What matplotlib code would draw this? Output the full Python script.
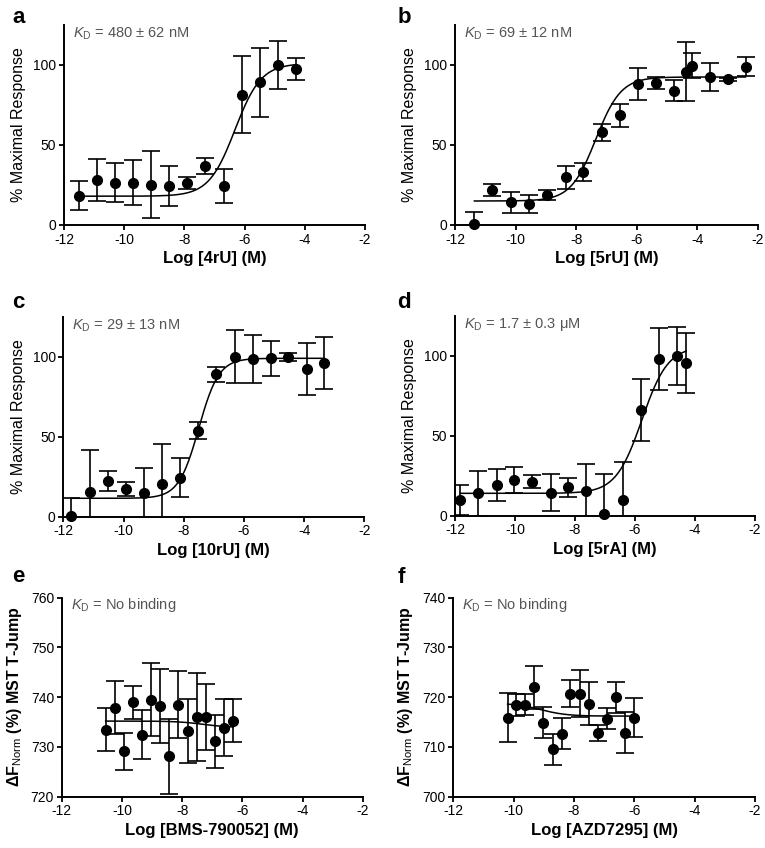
import numpy as np
import matplotlib
matplotlib.use('Agg')
import matplotlib.pyplot as plt

plt.rcParams['font.family'] = ['Liberation Sans', 'DejaVu Sans']
plt.rcParams['mathtext.fontset'] = 'custom'
plt.rcParams['mathtext.rm'] = 'Liberation Sans'
plt.rcParams['mathtext.it'] = 'Liberation Sans:italic'
plt.rcParams['mathtext.bf'] = 'Liberation Sans:bold'
plt.rcParams['axes.unicode_minus'] = False

# ---- data (log M, response, +/- error) ----
a_x = [-11.5, -10.9, -10.3, -9.7, -9.1, -8.5, -7.9, -7.3, -6.7, -6.1, -5.5, -4.9, -4.3]
a_y = [18.3, 28, 26.5, 26.5, 25.3, 24.3, 26.3, 36.7, 24.5, 81.5, 89.2, 100, 97.5]
a_err = [9, 13, 12, 14, 21, 12.5, 3.7, 5, 10.5, 24, 21.6, 15, 7]
a_fit = [18, 101, -6.32, 1.0]  # left plateau, right plateau, logKD, hill

b_x = [-11.36, -10.77, -10.16, -9.56, -8.96, -8.35, -7.76, -7.15, -6.55, -5.95,
       -5.37, -4.76, -4.37, -4.18, -3.6, -3.0, -2.41]
b_y = [0.4, 21.8, 14.1, 13, 18.7, 29.7, 33.2, 58, 68.5, 88.2, 88.6, 84, 95.9, 99.6, 92.3, 91, 99]
b_err = [8, 3.7, 6.7, 5.5, 3, 7, 5.5, 5.3, 7.3, 10, 3.8, 6.5, 18.6, 8, 8.8, 1, 5.7]
b_fit = [15, 92.5, -7.35, 1.05]

c_x = [-11.75, -11.11, -10.53, -9.92, -9.32, -8.72, -8.12, -7.53, -6.92, -6.31,
       -5.7, -5.1, -4.52, -3.92, -3.33]
c_y = [0.4, 15.6, 22.3, 17.3, 14.6, 20.2, 24.4, 53.8, 89, 100, 98.3, 99, 99.6, 92.3, 96]
c_err = [11, 26, 6.5, 4.4, 15.6, 25, 12, 5.2, 4.7, 16.7, 15, 11, 2.5, 16, 16.4]
c_fit = [11.5, 99, -7.5, 1.3]

d_x = [-11.83, -11.22, -10.61, -10.02, -9.42, -8.81, -8.22, -7.62, -7.02, -6.41,
       -5.81, -5.2, -4.61, -4.3]
d_y = [9.8, 14, 19.2, 22.3, 21.3, 14.4, 17.7, 15.4, 0.8, 9.8, 66.2, 98.1, 100, 95.8]
d_err = [9.6, 14, 10, 8, 4.2, 11.7, 6, 17, 25, 24, 19.5, 19.7, 18.3, 18.7]
d_fit = [14, 106, -5.77, 1.0]

e_x = [-10.54, -10.23, -9.94, -9.64, -9.33, -9.03, -8.74, -8.42, -8.13, -7.82,
       -7.52, -7.22, -6.92, -6.61, -6.3]
e_y = [733.5, 737.9, 729.1, 739, 732.5, 739.5, 738.2, 728.1, 738.5, 733.2,
       736, 736, 731.1, 733.9, 735.3]
e_err = [4.35, 5.3, 3.8, 3.3, 4.9, 7.3, 7.5, 7.6, 6.8, 6.4, 8.8, 6.7, 5.3, 5.8, 4.4]
e_fit = [735.2, 733.9, -7.3, 1.0]

f_x = [-10.2, -9.91, -9.61, -9.31, -9.02, -8.71, -8.41, -8.12, -7.81, -7.51,
       -7.22, -6.92, -6.62, -6.32, -6.01]
f_y = [715.9, 718.5, 718.5, 722, 714.9, 709.5, 712.7, 720.7, 720.7, 718.7,
       712.8, 715.7, 720, 712.9, 715.9]
f_err = [4.9, 2.2, 2.1, 4.3, 3.1, 3.05, 3.1, 2.7, 4.7, 4.3, 1.7, 2.1, 3.1, 4.2, 4]
f_fit = [718.8, 716.2, -9.1, 1.0]

letters = ['a', 'b', 'c', 'd', 'e', 'f']
xlabels = ['Log [4rU] (M)', 'Log [5rU] (M)', 'Log [10rU] (M)', 'Log [5rA] (M)',
           'Log [BMS-790052] (M)', 'Log [AZD7295] (M)']
kd_text = ['480 ± 62 nM', '69 ± 12 nM', '29 ± 13 nM', '1.7 ± 0.3 μM', 'No binding', 'No binding']

panels = [(a_x, a_y, a_err, a_fit), (b_x, b_y, b_err, b_fit), (c_x, c_y, c_err, c_fit),
          (d_x, d_y, d_err, d_fit), (e_x, e_y, e_err, e_fit), (f_x, f_y, f_err, f_fit)]

W, H = 765, 848
# axes boxes in pixels: left, right, bottom-spine y, top y
boxes = [(64, 365, 225, 25), (455, 758, 225, 25),
         (63.3, 364.3, 516.7, 316.7), (455, 755, 515.7, 316),
         (61.7, 362.7, 796.7, 597.7), (453.3, 755, 796.7, 597.7)]
letter_pos = [(12, 23), (398, 23), (12, 308), (397, 308), (12, 582), (398, 583)]
ylims = [(0, 125), (0, 125), (0, 125), (0, 125), (720, 760), (700, 740)]
yticks = [[0, 50, 100], [0, 50, 100], [0, 50, 100], [0, 50, 100],
          [720, 730, 740, 750, 760], [700, 710, 720, 730, 740]]


def sigmoid(x, p):
    left, right, c, h = p
    return left + (right - left) / (1 + 10 ** (h * (c - x)))


fig = plt.figure(figsize=(W / 100, H / 100), dpi=100)

for i, (x, y, err, fit) in enumerate(panels):
    l, r, b, t = boxes[i]
    ax = fig.add_axes([l / W, (H - b) / H, (r - l) / W, (b - t) / H])
    ax.errorbar(x, y, yerr=err, fmt='none', ecolor='black', elinewidth=1.2,
                capsize=6.5, capthick=1.2, zorder=2)
    ax.plot(x, y, 'o', color='black', markersize=7, clip_on=False, zorder=3)
    xs = np.linspace(min(x), max(x), 300)
    ax.plot(xs, sigmoid(xs, fit), color='black', lw=1.1, zorder=2)

    ax.set_xlim(-12, -2)
    ax.set_ylim(*ylims[i])
    ax.set_xticks([-12, -10, -8, -6, -4, -2])
    ax.set_yticks(yticks[i])
    for s in ['top', 'right']:
        ax.spines[s].set_visible(False)
    for s in ['left', 'bottom']:
        ax.spines[s].set_linewidth(1.4)
    ax.tick_params(direction='out', length=3.5, width=1.3, labelsize=10, pad=2)
    ax.set_xlabel(xlabels[i], fontsize=12, fontweight='bold', labelpad=3)
    if i < 4:
        ax.set_ylabel('% Maximal Response', fontsize=11.5, labelpad=5)
        ky = 0.955
    else:
        ax.set_ylabel('ΔF$_{\\mathrm{Norm}}$ (%) MST T-Jump', fontsize=11.5,
                      fontweight='bold', labelpad=5)
        ky = 0.965
    ax.text(0.03, ky, '$K_{\\mathrm{D}}$ = ' + kd_text[i], transform=ax.transAxes,
            fontsize=10.5, color='#555555', va='center', ha='left')

    lx, ly = letter_pos[i]
    fig.text(lx / W, (H - ly) / H, letters[i], fontsize=16, fontweight='bold',
             va='baseline', ha='left')

plt.savefig('out.png', dpi=100)
